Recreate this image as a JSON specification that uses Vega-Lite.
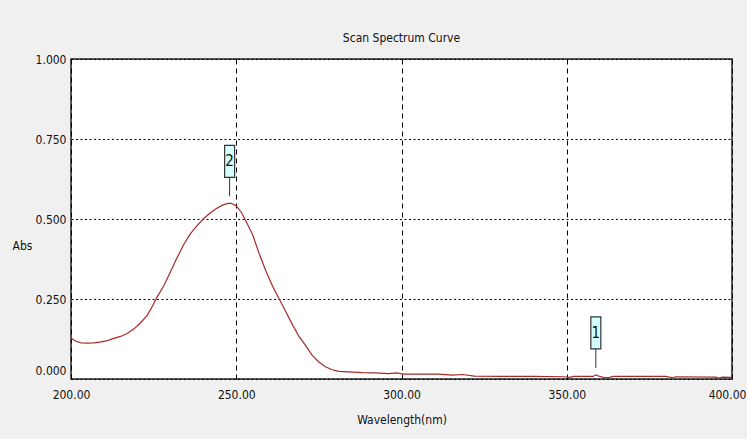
{
  "$schema": "https://vega.github.io/schema/vega-lite/v6.json",
  "autosize": {"type": "none"},
  "width": 661,
  "height": 320,
  "padding": {"left": 71, "top": 59, "right": 15, "bottom": 60},
  "background": "#f0f0f0",
  "config": {
    "view": {"fill": "white", "stroke": "#222", "strokeWidth": 1.5},
    "font": "DejaVu Sans Condensed, Liberation Sans Narrow, Liberation Sans"
  },
  "title": {
    "text": "Scan Spectrum Curve",
    "font": "DejaVu Sans Condensed, Liberation Sans Narrow, Liberation Sans",
    "fontSize": 12,
    "fontWeight": "normal",
    "color": "#111",
    "offset": 8,
    "anchor": "middle"
  },
  "datasets": {
    "spectrum": [
      {"wl": 200, "abs": 0.127}, {"wl": 201.5, "abs": 0.118}, {"wl": 203, "abs": 0.113},
      {"wl": 205, "abs": 0.112}, {"wl": 207, "abs": 0.113}, {"wl": 209, "abs": 0.116},
      {"wl": 211, "abs": 0.12}, {"wl": 213, "abs": 0.127}, {"wl": 215, "abs": 0.133},
      {"wl": 217, "abs": 0.142}, {"wl": 219, "abs": 0.156}, {"wl": 221, "abs": 0.175},
      {"wl": 223, "abs": 0.198}, {"wl": 224.5, "abs": 0.225}, {"wl": 226, "abs": 0.255},
      {"wl": 228, "abs": 0.29}, {"wl": 230, "abs": 0.333}, {"wl": 232, "abs": 0.377},
      {"wl": 234, "abs": 0.418}, {"wl": 236, "abs": 0.452}, {"wl": 238, "abs": 0.478},
      {"wl": 240, "abs": 0.5}, {"wl": 242, "abs": 0.518}, {"wl": 244, "abs": 0.533},
      {"wl": 246, "abs": 0.544}, {"wl": 247.5, "abs": 0.549}, {"wl": 248.5, "abs": 0.549},
      {"wl": 250, "abs": 0.541}, {"wl": 251.5, "abs": 0.522}, {"wl": 253, "abs": 0.492},
      {"wl": 255, "abs": 0.45}, {"wl": 257, "abs": 0.39}, {"wl": 259, "abs": 0.337},
      {"wl": 261, "abs": 0.29}, {"wl": 263, "abs": 0.25}, {"wl": 265, "abs": 0.21},
      {"wl": 267, "abs": 0.17}, {"wl": 269, "abs": 0.133}, {"wl": 271, "abs": 0.104},
      {"wl": 273, "abs": 0.074}, {"wl": 275, "abs": 0.053}, {"wl": 277, "abs": 0.038},
      {"wl": 279, "abs": 0.029}, {"wl": 281, "abs": 0.024}, {"wl": 284, "abs": 0.022},
      {"wl": 288, "abs": 0.02}, {"wl": 292, "abs": 0.019}, {"wl": 296, "abs": 0.017},
      {"wl": 298.5, "abs": 0.019}, {"wl": 300.5, "abs": 0.015}, {"wl": 305, "abs": 0.015},
      {"wl": 311, "abs": 0.015}, {"wl": 315.5, "abs": 0.012}, {"wl": 318.5, "abs": 0.014},
      {"wl": 322, "abs": 0.009}, {"wl": 330, "abs": 0.008}, {"wl": 340, "abs": 0.008},
      {"wl": 349, "abs": 0.007}, {"wl": 351, "abs": 0.005}, {"wl": 352, "abs": 0.008},
      {"wl": 358, "abs": 0.008}, {"wl": 358.8, "abs": 0.013}, {"wl": 360, "abs": 0.008},
      {"wl": 361.5, "abs": 0.004}, {"wl": 363, "abs": 0.005}, {"wl": 364, "abs": 0.008},
      {"wl": 370, "abs": 0.008}, {"wl": 380, "abs": 0.008}, {"wl": 382, "abs": 0.004},
      {"wl": 383, "abs": 0.007}, {"wl": 395, "abs": 0.006}, {"wl": 396, "abs": 0.003},
      {"wl": 397, "abs": 0.006}, {"wl": 400, "abs": 0.005}
    ],
    "markers": [
      {"id": "1", "wl": 358.8, "abs": 0.013},
      {"id": "2", "wl": 248, "abs": 0.549}
    ]
  },
  "layer": [
    {
      "data": {"name": "spectrum"},
      "mark": {"type": "line", "color": "#a52a2a", "strokeWidth": 1.2, "clip": true},
      "encoding": {
        "x": {
          "field": "wl", "type": "quantitative",
          "scale": {"domain": [200, 400], "nice": false, "zero": false},
          "axis": {
            "title": "Wavelength(nm)",
            "values": [200, 250, 300, 350, 400],
            "format": ".2f",
            "labelFont": "DejaVu Sans Condensed, Liberation Sans Narrow, Liberation Sans",
            "labelFontSize": 12,
            "labelColor": "#111",
            "labelPadding": 10,
            "labelFlush": false,
            "labelOffset": {"condition": {"test": "datum.value === 400", "value": -5}, "value": 0},
            "tickSize": 0,
            "domain": false,
            "grid": true,
            "gridColor": "#000",
            "gridDash": [5, 4],
            "gridWidth": 1,
            "gridOpacity": 1,
            "titleFont": "DejaVu Sans Condensed, Liberation Sans Narrow, Liberation Sans",
            "titleFontSize": 12,
            "titleFontWeight": "normal",
            "titleColor": "#111",
            "titlePadding": 14
          }
        },
        "y": {
          "field": "abs", "type": "quantitative",
          "scale": {"domain": [0, 1], "nice": false, "zero": true},
          "axis": {
            "title": "Abs",
            "values": [0, 0.25, 0.5, 0.75, 1],
            "format": ".3f",
            "labelFont": "DejaVu Sans Condensed, Liberation Sans Narrow, Liberation Sans",
            "labelFontSize": 12,
            "labelColor": "#111",
            "labelPadding": 5,
            "labelFlush": false,
            "labelOffset": {"condition": {"test": "datum.value === 0", "value": -9}, "value": 0},
            "tickSize": 0,
            "domain": false,
            "grid": true,
            "gridColor": "#000",
            "gridDash": [2, 2.5],
            "gridWidth": 1,
            "gridOpacity": 1,
            "titleFont": "DejaVu Sans Condensed, Liberation Sans Narrow, Liberation Sans",
            "titleFontSize": 12,
            "titleFontWeight": "normal",
            "titleColor": "#111",
            "titleAngle": 0,
            "titleAlign": "center",
            "titleBaseline": "middle",
            "titleX": -49,
            "titleY": 186
          }
        }
      }
    },
    {
      "data": {"name": "markers"},
      "mark": {"type": "rule", "color": "#333", "strokeWidth": 1, "yOffset": -7, "y2Offset": -26},
      "encoding": {
        "x": {"field": "wl", "type": "quantitative"},
        "y": {"field": "abs", "type": "quantitative"},
        "y2": {"field": "abs"}
      }
    },
    {
      "data": {"name": "markers"},
      "mark": {
        "type": "point",
        "shape": "M-0.3125,-1L0.3125,-1L0.3125,1L-0.3125,1Z",
        "size": 1024,
        "filled": true,
        "fill": "#d4ffff",
        "stroke": "#333",
        "strokeWidth": 1.2,
        "opacity": 1,
        "yOffset": -42
      },
      "encoding": {
        "x": {"field": "wl", "type": "quantitative"},
        "y": {"field": "abs", "type": "quantitative"}
      }
    },
    {
      "data": {"name": "markers"},
      "mark": {
        "type": "text",
        "font": "DejaVu Sans Condensed, Liberation Sans Narrow, Liberation Sans",
        "fontSize": 15,
        "color": "#111",
        "baseline": "middle",
        "align": "center",
        "dy": -42
      },
      "encoding": {
        "x": {"field": "wl", "type": "quantitative"},
        "y": {"field": "abs", "type": "quantitative"},
        "text": {"field": "id"}
      }
    }
  ]
}
